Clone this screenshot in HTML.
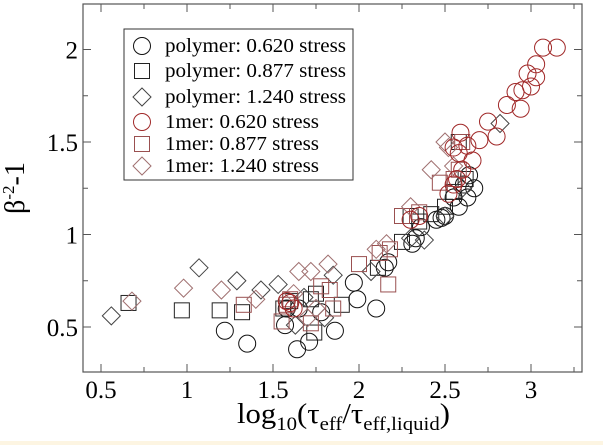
<!DOCTYPE html>
<html><head><meta charset="utf-8"><style>
html,body{margin:0;padding:0;background:#fff;width:603px;height:445px;overflow:hidden}
svg text{font-family:"Liberation Serif",serif}
</style></head><body>
<svg width="603" height="445" xmlns="http://www.w3.org/2000/svg">
<rect x="0" y="0" width="603" height="445" fill="#fff"/>
<rect x="0" y="441" width="603" height="4" fill="#fdf5e2"/>
<g id="marks"></g>
<g id="axes"></g>
<g>
<rect x="124" y="29" width="229" height="151" fill="#fff" stroke="#333" stroke-width="1"/>
<g id="legend"></g>
</g>
<text x="24" y="188" font-size="28" text-anchor="middle" transform="rotate(-90 24 188)">β<tspan dy="-10" font-size="17">-2</tspan><tspan dy="10">-1</tspan></text>
<text x="237" y="423" font-size="28" textLength="213" lengthAdjust="spacingAndGlyphs">log<tspan dy="7" font-size="19">10</tspan><tspan dy="-7">(τ</tspan><tspan dy="7" font-size="19">eff</tspan><tspan dy="-7">/τ</tspan><tspan dy="7" font-size="19">eff,liquid</tspan><tspan dy="-7">)</tspan></text>
</svg>
<script>
const xTicks=[0.5,1,1.5,2,2.5,3];
const xTickLabels=["0.5","1","1.5","2","2.5","3"];
const yTicks=[0.5,1,1.5,2];
const yTickLabels=["0.5","1","1.5","2"];
const polyCircleX=[1.22,1.35,1.64,1.57,1.78,1.86,1.71,1.97,1.99,2.1,2.17,2.15,1.58,1.65,2.33,2.31,2.36,2.45,2.48,2.5,2.58,2.63,2.67,2.55,2.61,2.64];
const polyCircleY=[0.48,0.41,0.38,0.51,0.58,0.48,0.42,0.74,0.65,0.6,0.85,0.82,0.6,0.6,0.98,0.95,1.04,1.08,1.09,1.1,1.15,1.2,1.25,1.2,1.27,1.32];
const polySquareX=[0.66,0.97,1.19,1.32,1.6,1.72,1.75,1.9,2.11,1.74,2.25,2.3,2.42,2.5,2.55,2.62,2.58,2.35,1.56];
const polySquareY=[0.63,0.59,0.59,0.58,0.64,0.65,0.68,0.62,0.82,0.47,0.96,1.1,1.11,1.15,1.23,1.3,1.5,1.07,0.6];
const polyDiamondX=[0.56,1.07,1.29,1.43,1.53,1.8,1.85,2.07,2.3,2.38,2.5,2.6,2.82,1.68,1.63];
const polyDiamondY=[0.56,0.82,0.75,0.7,0.73,0.55,0.78,0.8,0.98,0.97,1.1,1.25,1.6,0.66,0.51];
const merCircleX=[1.6,1.62,1.58,2.3,2.35,2.52,2.55,2.57,2.6,2.66,2.58,2.63,2.7,2.59,2.55,2.75,2.8,2.86,2.91,2.94,3.0,3.03,3.03,2.98,3.07,3.15,2.95];
const merCircleY=[0.63,0.6,0.64,1.08,1.1,1.22,1.27,1.3,1.35,1.4,1.44,1.48,1.51,1.55,1.47,1.61,1.53,1.7,1.77,1.68,1.8,1.85,1.92,1.87,2.01,2.01,1.78];
const merSquareX=[1.6,1.58,1.33,1.55,1.72,1.85,1.83,2.0,2.17,2.18,2.12,2.25,2.35,2.55,2.6,2.58,2.47,1.78];
const merSquareY=[0.65,0.62,0.62,0.53,0.52,0.6,0.7,0.84,0.73,0.92,0.9,1.1,1.12,1.3,1.5,1.35,1.28,0.72];
const merDiamondX=[0.68,0.98,1.2,1.4,1.65,1.72,1.82,1.62,1.7,2.1,2.16,2.3,2.42,2.5,2.52,2.55,1.75];
const merDiamondY=[0.64,0.71,0.7,0.65,0.8,0.8,0.84,0.68,0.55,0.92,0.95,1.15,1.35,1.5,1.47,1.37,0.6];

const L=83,R=582,T=4,B=372;
function sx(v){return 101+(v-0.5)*172;}
function sy(v){return 327-(v-0.5)*185;}
const NS="http://www.w3.org/2000/svg";
function mk(tag,attrs,parent){const e=document.createElementNS(NS,tag);for(const k in attrs)e.setAttribute(k,attrs[k]);parent.appendChild(e);return e;}
function marker(shape,cx,cy,color,parent,name){
  let e;
  if(shape==='c'){e=mk('circle',{cx:cx,cy:cy,r:8.5,fill:'none',stroke:color,'stroke-width':1},parent);}
  else if(shape==='s'){e=mk('rect',{x:cx-7.5,y:cy-7.5,width:15,height:15,fill:'none',stroke:color,'stroke-width':1},parent);}
  else{e=mk('polygon',{points:`${cx},${cy-9} ${cx+9},${cy} ${cx},${cy+9} ${cx-9},${cy}`,fill:'none',stroke:color,'stroke-width':1},parent);}
  
  
  return e;
}
const marks=document.getElementById('marks');
const series=[
 [polyCircleX,polyCircleY,'c','#111','polymer-0620-point'],
 [polySquareX,polySquareY,'s','#222','polymer-0877-point'],
 [polyDiamondX,polyDiamondY,'d','#444','polymer-1240-point'],
 [merSquareX,merSquareY,'s','#9a5050','1mer-0877-point'],
 [merDiamondX,merDiamondY,'d','#a07070','1mer-1240-point'],
 [merCircleX,merCircleY,'c','#a02828','1mer-0620-point']
];
series.forEach(s=>{for(let i=0;i<s[0].length;i++)marker(s[2],sx(s[0][i]),sy(s[1][i]),s[3],marks,s[4]);});

const ax=document.getElementById('axes');
mk('rect',{x:L,y:T,width:R-L,height:B-T,fill:'none',stroke:'#555','stroke-width':1.2},ax);
for(let v=0.5;v<=3.26;v+=0.25){
  const x=sx(v),maj=Math.abs(v*2-Math.round(v*2))<1e-6,len=maj?8:5;
  mk('line',{x1:x,y1:B,x2:x,y2:B-len,stroke:'#555'},ax);
  mk('line',{x1:x,y1:T,x2:x,y2:T+len,stroke:'#555'},ax);
}
for(let v=0.5;v<=2.24;v+=0.25){
  const y=sy(v),maj=Math.abs(v*2-Math.round(v*2))<1e-6,len=maj?8:5;
  mk('line',{x1:L,y1:y,x2:L+len,y2:y,stroke:'#555'},ax);
  mk('line',{x1:R,y1:y,x2:R-len,y2:y,stroke:'#555'},ax);
}
xTicks.forEach((v,i)=>{const t=mk('text',{x:sx(v),y:398,'font-size':25,'text-anchor':'middle'},ax);t.textContent=xTickLabels[i];

});
yTicks.forEach((v,i)=>{const t=mk('text',{x:78,y:sy(v)+9,'font-size':25,'text-anchor':'end'},ax);t.textContent=yTickLabels[i];

});

const leg=document.getElementById('legend');
const legendLabels=["polymer: 0.620 stress","polymer: 0.877 stress","polymer: 1.240 stress","1mer: 0.620 stress","1mer: 0.877 stress","1mer: 1.240 stress"];
const legendShapes=['c','s','d','c','s','d'];
const legendColors=['#111','#222','#444','#a02828','#9a5050','#a07070'];
const legendYs=[46,71,97,122,144,166];
legendLabels.forEach((lab,i)=>{
  marker(legendShapes[i],142,legendYs[i],legendColors[i],leg,'legend-marker');
  const t=mk('text',{x:165,y:legendYs[i]+6,'font-size':20,textLength:(i<3?181:154),lengthAdjust:'spacingAndGlyphs'},leg);t.textContent=lab;
  
  
});
</script>
</body></html>
